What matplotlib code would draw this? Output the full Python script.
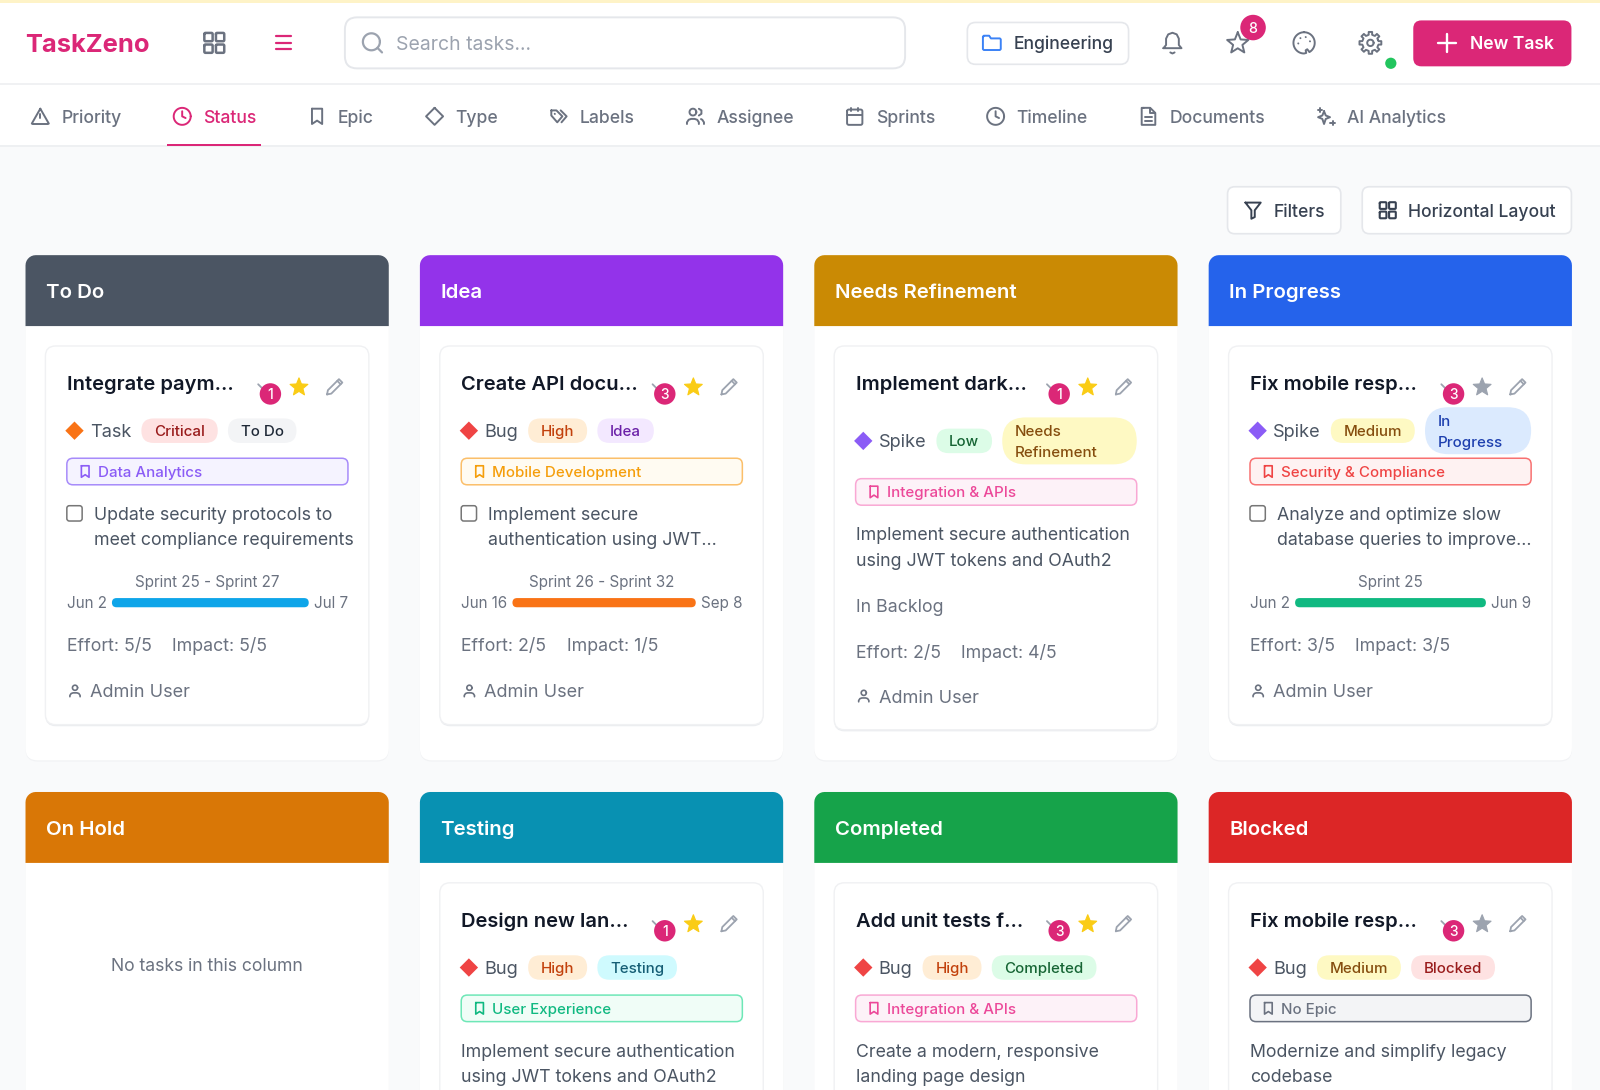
import itertools
import numpy as np
import matplotlib
matplotlib.use("Agg")
import matplotlib.pyplot as plt
from matplotlib.patches import FancyBboxPatch, Circle, Polygon, Rectangle, PathPatch
from matplotlib.path import Path

# ---------- content ----------
app_name = "TaskZeno"
search_hint = "Search tasks..."
workspace = "Engineering"
new_task = "New Task"
notification_count = "8"
tab_names = ["Priority", "Status", "Epic", "Type", "Labels", "Assignee", "Sprints", "Timeline", "Documents", "AI Analytics"]
tab_icons = ["alert", "clock", "bookmark", "diamond", "tag", "users", "calendar", "clock", "doc", "sparkles"]
active_tab = "Status"
columns = ["To Do", "Idea", "Needs Refinement", "In Progress", "On Hold", "Testing", "Completed", "Blocked"]
titles = ["Integrate paym...", "Create API docu...", "Implement dark...", "Fix mobile resp...", None, "Design new lan...", "Add unit tests f...", "Fix mobile resp..."]
badges = ["1", "3", "1", "3", None, "1", "3", "3"]
starred = [True, True, True, False, None, True, True, False]
types = ["Task", "Bug", "Spike", "Spike", None, "Bug", "Bug", "Bug"]
priorities = ["Critical", "High", "Low", "Medium", None, "High", "High", "Medium"]
epics = ["Data Analytics", "Mobile Development", "Integration & APIs", "Security & Compliance", None, "User Experience", "Integration & APIs", "No Epic"]
checkable = [True, True, False, True, None, False, False, False]
descriptions = ["Update security protocols to\nmeet compliance requirements",
                "Implement secure\nauthentication using JWT...",
                "Implement secure authentication\nusing JWT tokens and OAuth2",
                "Analyze and optimize slow\ndatabase queries to improve...",
                None,
                "Implement secure authentication\nusing JWT tokens and OAuth2",
                "Create a modern, responsive\nlanding page design",
                "Modernize and simplify legacy\ncodebase"]
sprints = ["Sprint 25 - Sprint 27", "Sprint 26 - Sprint 32", None, "Sprint 25"]
starts = ["Jun 2", "Jun 16", None, "Jun 2"]
ends = ["Jul 7", "Sep 8", None, "Jun 9"]
backlog_label = "In Backlog"
efforts = [5, 2, 2, 3]
impacts = [5, 1, 4, 3]
assignee = "Admin User"
empty_text = "No tasks in this column"

# ---------- styles ----------
PINK = "#DB2777"
header_colors = ["#4B5563", "#9333EA", "#CA8A04", "#2563EB", "#D97706", "#0891B2", "#16A34A", "#DC2626"]
type_colors = {"Task": "#F97316", "Bug": "#EF4444", "Spike": "#8B5CF6"}
pill_colors = {"Critical": ("#FEE2E2", "#991B1B"), "High": ("#FFEDD5", "#C2410C"), "Low": ("#DCFCE7", "#166534"),
               "Medium": ("#FEF9C3", "#854D0E"), "To Do": ("#F3F4F6", "#1F2937"), "Idea": ("#F3E8FF", "#6B21A8"),
               "Needs Refinement": ("#FEF9C3", "#854D0E"), "In Progress": ("#DBEAFE", "#1E40AF"),
               "Testing": ("#CFFAFE", "#155E75"), "Completed": ("#DCFCE7", "#166534"), "Blocked": ("#FEE2E2", "#991B1B")}
epic_colors = {"Data Analytics": ("#F5F3FF", "#A78BFA", "#8B5CF6"), "Mobile Development": ("#FFFBF2", "#FBBF6A", "#F59E0B"),
               "Integration & APIs": ("#FDF2F8", "#F9A8D4", "#EC4899"), "Security & Compliance": ("#FEF2F2", "#F87171", "#EF4444"),
               "User Experience": ("#F0FDF7", "#6EE7B7", "#10B981"), "No Epic": ("#F3F4F6", "#6B7280", "#6B7280")}
bar_colors = ["#0EA5E9", "#F97316", None, "#10B981"]

plt.rcParams["font.family"] = ["Inter", "DejaVu Sans"]
W, H = 1568.0, 1068.0
fig = plt.figure(figsize=(16, 10.9), dpi=100)
ax = fig.add_axes([0, 0, 1, 1])
ax.set_xlim(0, W); ax.set_ylim(H, 0); ax.axis("off")
z = itertools.count(1)
K = 1600 / W


def T(x, cy, s, px, color, weight=400, ha="left"):
    t = ax.text(x, cy + 0.36 * px, s, fontsize=px * K * 0.72, color=color, weight=weight, ha=ha, va="baseline", zorder=next(z))
    return t


def width(t):
    bb = t.get_window_extent(fig.canvas.get_renderer())
    return bb.width / K


def RR(x0, y0, x1, y1, r, fc, ec="none", lw=1.0):
    p = FancyBboxPatch((x0, y0), x1 - x0, y1 - y0, boxstyle=f"round,pad=0,rounding_size={r}", fc=fc, ec=ec, lw=lw, zorder=next(z), mutation_aspect=1)
    ax.add_patch(p)
    return p


def line(xs, ys, color, lw=1.5):
    ax.plot(xs, ys, color=color, lw=lw, solid_capstyle="round", solid_joinstyle="round", zorder=next(z))


def circ(a, b, r, a0=0, a1=360, n=40):
    t = np.radians(np.linspace(a0, a1, n))
    return list(zip(a + r * np.cos(t), b + r * np.sin(t)))


def rrect(x, y, w, h, r):
    pts = circ(x + r, y + r, r, 180, 270, 6) + circ(x + w - r, y + r, r, 270, 360, 6) + circ(x + w - r, y + h - r, r, 0, 90, 6) + circ(x + r, y + h - r, r, 90, 180, 6)
    return pts + pts[:1]


def star_pts(a=12, b=12.5, R=10.5, r=4.6):
    out = []
    for i in range(10):
        ang = np.radians(-90 + 36 * i)
        q = R if i % 2 == 0 else r
        out.append((a + q * np.cos(ang), b + q * np.sin(ang)))
    return out + out[:1]


def gear_pts():
    out = []
    for i in range(8):
        base = 45 * i
        for d, q in [(-22, 7.6), (-12, 7.8), (-9, 10.4), (9, 10.4), (12, 7.8), (22, 7.6)]:
            ang = np.radians(base + d)
            out.append((12 + q * np.cos(ang), 12 + q * np.sin(ang)))
    return out + out[:1]


ICONS = {
    "alert": [[(12, 3), (22, 20.5), (21, 21), (3, 21), (2, 20.5), (12, 3)], [(12, 9), (12, 14)], [(12, 17.4), (12, 17.6)]],
    "clock": [circ(12, 12, 10), [(12, 6), (12, 12), (16, 14)]],
    "bookmark": [[(6, 3), (18, 3), (18, 21), (12, 17), (6, 21), (6, 3)]],
    "diamond": [[(12, 2), (22, 12), (12, 22), (2, 12), (12, 2)]],
    "tag": [[(3, 5), (9, 5), (16, 12), (10, 19), (3, 11), (3, 5)], [(14, 5), (21, 12), (15, 19)], [(7, 9), (7.2, 9.2)]],
    "users": [circ(9, 7, 4), [(2, 21), (2, 19), (4, 16), (7, 15), (11, 15), (14, 16), (16, 19), (16, 21)],
              [(16, 3.1), (19, 5), (19, 9), (16, 11)], [(22, 21), (22, 19), (20, 16), (18.5, 15.2)]],
    "calendar": [rrect(3, 4, 18, 18, 2), [(3, 10), (21, 10)], [(8, 2), (8, 6)], [(16, 2), (16, 6)]],
    "doc": [[(6, 2), (14, 2), (20, 8), (20, 22), (4, 22), (4, 2), (6, 2)], [(14, 2), (14, 8), (20, 8)], [(8, 13), (16, 13)], [(8, 17), (16, 17)]],
    "sparkles": [[(10, 6), (12, 11), (17, 13), (12, 15), (10, 21), (8, 15), (3, 13), (8, 11), (10, 6)],
                 [(20, 17), (20, 22)], [(17.5, 19.5), (22.5, 19.5)], [(5, 2), (5, 7)], [(2.5, 4.5), (7.5, 4.5)]],
    "filter": [[(3, 3), (21, 3), (14, 12), (14, 20), (10, 22), (10, 12), (3, 3)]],
    "person": [circ(12, 7, 4), [(4, 21), (4, 19), (6, 16), (9, 15), (15, 15), (18, 16), (20, 19), (20, 21)]],
    "pencil": [[(3, 21), (4, 16), (17, 3), (21, 7), (8, 20), (3, 21)], [(15, 5), (19, 9)]],
    "star": [star_pts()],
    "bell": [[(3.5, 17), (6, 14), (6, 8), (8, 4), (12, 2.5), (16, 4), (18, 8), (18, 14), (20.5, 17), (3.5, 17)], [(10, 21), (12, 22), (14, 21)]],
    "palette": [circ(12, 12, 10, -90, 60) + [(15, 18), (13.5, 19), (14, 21.5), (12, 22)] + circ(12, 12, 10, 90, 270),
                [(13.5, 6.5), (13.6, 6.6)], [(17.5, 10.5), (17.6, 10.6)], [(8.5, 7.5), (8.6, 7.6)], [(6.5, 12.5), (6.6, 12.6)]],
    "gear": [gear_pts(), circ(12, 12, 3)],
    "folder": [[(2.5, 5), (3, 4), (9, 4), (11, 7), (21, 7), (22, 8), (22, 19), (21, 20), (3, 20), (2, 19), (2, 5)]],
    "grid": [rrect(3, 3, 7.5, 7.5, 1), rrect(13.5, 3, 7.5, 7.5, 1), rrect(3, 13.5, 7.5, 7.5, 1), rrect(13.5, 13.5, 7.5, 7.5, 1)],
    "list": [[(8, 6), (21, 6)], [(8, 12), (21, 12)], [(8, 18), (21, 18)], [(3, 6), (3.1, 6)], [(3, 12), (3.1, 12)], [(3, 18), (3.1, 18)]],
    "search": [circ(11, 11, 8), [(21, 21), (16.7, 16.7)]],
    "plus": [[(12, 3), (12, 21)], [(3, 12), (21, 12)]],
}


def icon(name, cx, cy, size, color, lw=1.4):
    f = size / 24.0
    for seg in ICONS[name]:
        arr = np.array(seg, dtype=float)
        line(cx + (arr[:, 0] - 12) * f, cy + (arr[:, 1] - 12) * f, color, lw)


def filled(name, cx, cy, size, color):
    f = size / 24.0
    arr = np.array(ICONS[name][0], dtype=float)
    ax.add_patch(Polygon(np.c_[cx + (arr[:, 0] - 12) * f, cy + (arr[:, 1] - 12) * f], closed=True, fc=color, ec=color, lw=0.8, joinstyle="round", zorder=next(z)))


def top_rounded(x0, y0, x1, y1, r, fc):
    pts = [(x0, y1)] + circ(x0 + r, y0 + r, r, 180, 270, 8) + circ(x1 - r, y0 + r, r, 270, 360, 8) + [(x1, y1)]
    ax.add_patch(Polygon(pts, closed=True, fc=fc, ec="none", zorder=next(z)))


# ---------- page ----------
ax.add_patch(Rectangle((0, 0), W, H, fc="#F9FAFB", ec="none", zorder=next(z)))
ax.add_patch(Rectangle((0, 0), W, 143, fc="#FFFFFF", ec="none", zorder=next(z)))
ax.add_patch(Rectangle((0, 0), W, 2.5, fc="#FEF3C7", ec="none", zorder=next(z)))
line([0, W], [82, 82], "#F0F1F3", 1.4)
line([0, W], [143.5, 143.5], "#EEF0F2", 1.4)

T(25, 42, app_name, 25, PINK, 700)
icon("grid", 210, 42, 26, "#6B7280", 1.8)
icon("list", 275, 42, 26, PINK, 1.6)
RR(338, 17, 887, 67, 12, "#FFFFFF", "#E5E7EB", 1.4)
icon("search", 365, 42, 25, "#9CA3AF", 1.6)
T(388, 42, search_hint, 19, "#9CA3AF")
RR(948, 22, 1106, 63, 8, "#FFFFFF", "#E5E7EB", 1.2)
icon("folder", 972, 42, 21, "#3B82F6", 1.4)
T(993, 42, workspace, 17.2, "#374151", 500)
icon("bell", 1149, 42, 25, "#6B7280", 1.4)
icon("star", 1213, 42, 25, "#6B7280", 1.4)
ax.add_patch(Circle((1228, 27), 12.5, fc=PINK, ec="none", zorder=next(z)))
T(1228, 27, notification_count, 14, "#FFFFFF", 500, "center")
icon("palette", 1278, 42, 25, "#6B7280", 1.4)
icon("gear", 1343, 42, 25, "#6B7280", 1.4)
ax.add_patch(Circle((1363, 62), 5.5, fc="#22C55E", ec="none", zorder=next(z)))
RR(1385, 20, 1540, 65, 8, PINK)
icon("plus", 1418, 42, 23, "#FFFFFF", 1.7)
T(1441, 42, new_task, 17.2, "#FFFFFF", 600)

# tabs flow from left to right
cursor = 30.0
for name, ic in zip(tab_names, tab_icons):
    col = PINK if name == active_tab else "#6B7280"
    icon(ic, cursor + 9.5, 114, 20, col, 1.4)
    t = T(cursor + 30, 114, name, 17.2, col, 500)
    w = width(t)
    if name == active_tab:
        ax.add_patch(Rectangle((cursor - 5, 141), w + 40, 2, fc=PINK, ec="none", zorder=next(z)))
    cursor += 30 + w + 50

RR(1203, 183, 1314, 229, 7, "#FFFFFF", "#E5E7EB", 1.2)
icon("filter", 1228, 206, 20, "#374151", 1.4)
T(1248, 206, "Filters", 17.2, "#374151", 500)
RR(1335, 183, 1540, 229, 7, "#FFFFFF", "#E5E7EB", 1.2)
icon("grid", 1360, 206, 21, "#374151", 1.5)
T(1380, 206, "Horizontal Layout", 17.2, "#374151", 500)

# ---------- columns ----------
COL_X = [25.0, 411.5, 798.0, 1184.5]
ROW_Y = [250.0, 776.0]
TXT = "#4B5563"
for i, name in enumerate(columns):
    c = COL_X[i % 4]
    top = ROW_Y[i // 4]
    bottom = 745 if i < 4 else 1300
    RR(c, top + 2, c + 356, bottom + 1.2, 12, "#F1F2F4")
    RR(c, top, c + 356, bottom, 12, "#FFFFFF")
    top_rounded(c, top, c + 356, top + 69.5, 10, header_colors[i])
    T(c + 20, top + 35, name, 20, "#FFFFFF", 600)
    if titles[i] is None:
        T(c + 178, top + 169, empty_text, 17.2, "#6B7280", 400, "center")
        continue
    lift = 20 if i < 4 and sprints[i] is None else 0
    has_back = i < 4 and sprints[i] is None
    card_bottom = top + (465 if has_back else 460) if i < 4 else 1300
    RR(c + 19.5, top + 89, c + 336.5, card_bottom + 1.6, 10, "#EBEDF0")
    RR(c + 19.5, top + 89, c + 336.5, card_bottom, 10, "#FFFFFF", "#F0F1F3", 1.0)
    L = c + 40.5
    Rt = c + 316
    T(L, top + 125, titles[i], 19.7, "#111827", 600)
    line([c + 228, c + 234.5, c + 239], [top + 126.5, top + 133, top + 129], "#9CA3AF", 1.3)
    ax.add_patch(Circle((c + 240, top + 136), 10.5, fc=PINK, ec="none", zorder=next(z)))
    T(c + 240, top + 136, badges[i], 13.5, "#FFFFFF", 500, "center")
    filled("star", c + 268, top + 129, 21, "#FACC15" if starred[i] else "#9CA3AF")
    icon("pencil", c + 303, top + 129, 20, "#9CA3AF", 1.3)

    # meta row; the status pill wraps when it does not fit
    row = top + 172 + (10 if lift else 0)
    ty = types[i]
    d = 9
    ax.add_patch(Polygon([(c + 48, row - d), (c + 48 + d, row), (c + 48, row + d), (c + 48 - d, row)], closed=True, fc=type_colors[ty], ec="none", zorder=next(z)))
    tt = T(c + 63, row, ty, 17.8, TXT)
    x = c + 63 + width(tt) + 10
    pr = priorities[i]
    probe = T(0, -50, pr, 14.8, "#000000", 500)
    pw = width(probe) + 25
    probe.remove()
    RR(x, row - 12, x + pw, row + 12, 12, pill_colors[pr][0])
    T(x + 12.5, row, pr, 14.8, pill_colors[pr][1], 500)
    x += pw + 10
    st = name
    fg = pill_colors[st]
    probe = T(0, -50, st, 14.8, "#000000", 500)
    sw = width(probe) + 25
    probe.remove()
    if x + sw > Rt:
        a, b = st.split(" ", 1)
        RR(x, row - 23, Rt, row + 23, 23, fg[0])
        T(x + 12.5, row - 10, a, 14.8, fg[1], 500)
        T(x + 12.5, row + 10.5, b, 14.8, fg[1], 500)
    else:
        RR(x, row - 12, x + sw, row + 12, 12, fg[0])
        T(x + 12.5, row, st, 14.8, fg[1], 500)

    # epic tag
    ey = top + 212 + lift
    e = epics[i]
    bg, border, txt = epic_colors[e]
    RR(L, ey - 13, Rt, ey + 13, 6, bg, border, 1.1)
    icon("bookmark", c + 58.5, ey, 15, txt, 1.2)
    T(c + 71, ey, e, 14.8, txt, 500)

    # description
    dy = top + 253 + lift
    dx = L
    if checkable[i]:
        RR(L, dy - 7.5, L + 15, dy + 7.5, 2.5, "#FFFFFF", "#767676", 1.1)
        dx = L + 26.5
    for k, ln in enumerate(descriptions[i].split("\n")):
        T(dx, dy + 25 * k, ln, 17.4, TXT)

    if i >= 4:
        continue
    if sprints[i] is not None:
        T(c + 178, top + 320, sprints[i], 14.9, "#6B7280", 400, "center")
        a = T(L, top + 340.5, starts[i], 14.9, "#6B7280")
        b = T(Rt, top + 340.5, ends[i], 14.9, "#6B7280", 400, "right")
        RR(L + width(a) + 5, top + 336, Rt - width(b) - 5, top + 345, 4.5, bar_colors[i])
        ry = top + 382
        uy = top + 427
    else:
        T(L, top + 343, backlog_label, 17.4, "#6B7280")
        ry = top + 388
        uy = top + 432
    t1 = T(L, ry, f"Effort: {efforts[i]}/5", 17.4, "#6B7280")
    T(L + width(t1) + 20, ry, f"Impact: {impacts[i]}/5", 17.4, "#6B7280")
    icon("person", c + 48.5, uy, 15, "#6B7280", 1.2)
    T(c + 63, uy, assignee, 17.8, "#6B7280")

fig.savefig("out.png", dpi=100)
